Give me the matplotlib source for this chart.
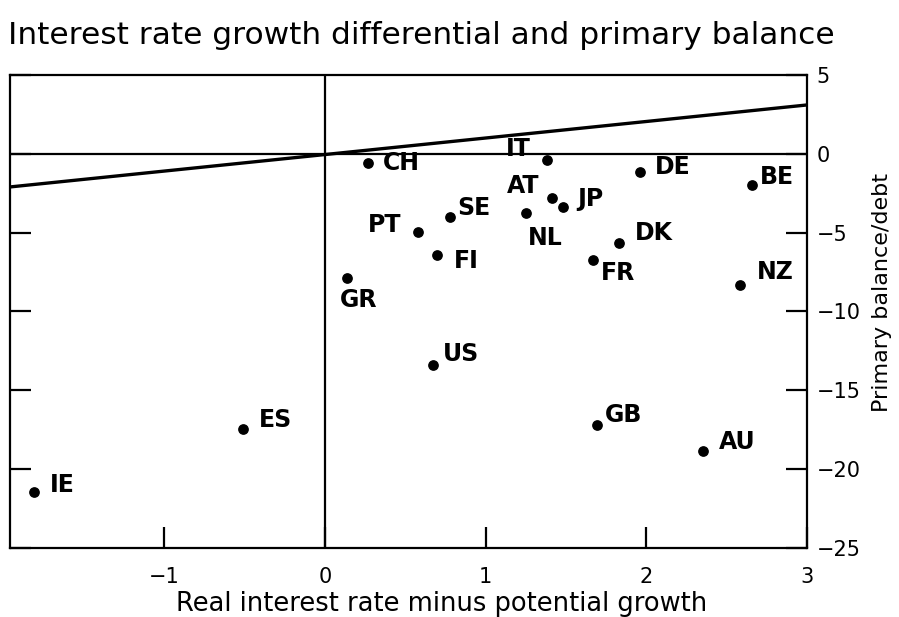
import matplotlib
matplotlib.use('Agg')
import matplotlib.pyplot as plt
import numpy as np

plt.rcParams['font.family'] = ['DejaVu Sans']

# データ
countries = ['CH', 'IT', 'DE', 'BE', 'AT', 'JP', 'SE', 'NL', 'PT', 'FI',
             'DK', 'FR', 'NZ', 'GR', 'US', 'GB', 'AU', 'ES', 'IE']
rate_gap = [0.27, 1.38, 1.96, 2.66, 1.41, 1.48, 0.78, 1.25, 0.58, 0.70,
            1.83, 1.67, 2.58, 0.14, 0.67, 1.69, 2.35, -0.51, -1.81]
primary_balance = [-0.55, -0.4, -1.15, -2.0, -2.8, -3.35, -4.0, -3.75, -4.95, -6.4,
                   -5.65, -6.75, -8.3, -7.9, -13.4, -17.2, -18.85, -17.45, -21.45]

# 回帰線の端点
fit_x = [-1.96, 3.0]
fit_y = [-2.1, 3.1]

# ラベル位置のずれ（ピクセル）
label_offsets = {
    'CH': (15, 0, 'left'), 'IT': (-28, 11, 'center'), 'DE': (15, 5, 'left'),
    'BE': (8, 8, 'left'), 'AT': (-28, 12, 'center'), 'JP': (14, 8, 'left'),
    'SE': (7, 9, 'left'), 'NL': (19, -25, 'center'), 'PT': (-17, 7, 'right'),
    'FI': (16, -6, 'left'), 'DK': (16, 10, 'left'), 'FR': (8, -13, 'left'),
    'NZ': (17, 13, 'left'), 'GR': (-8, -22, 'left'), 'US': (10, 11, 'left'),
    'GB': (8, 10, 'left'), 'AU': (16, 9, 'left'), 'ES': (16, 9, 'left'),
    'IE': (16, 7, 'left'),
}

fig = plt.figure(figsize=(8.99, 6.17), dpi=100)
ax = fig.add_axes([10 / 899, 1 - 548 / 617, 797 / 899, 473 / 617])

ax.set_xlim(-1.96, 3)
ax.set_ylim(-25, 5)

ax.axhline(0, color='black', lw=1.6, zorder=1)
ax.axvline(0, color='black', lw=1.6, zorder=1)
ax.plot(fit_x, fit_y, color='black', lw=2.4, zorder=2)

ax.scatter(rate_gap, primary_balance, s=45, color='black', zorder=3)
for name, x, y in zip(countries, rate_gap, primary_balance):
    dx, dy, ha = label_offsets[name]
    ax.annotate(name, (x, y), xytext=(dx, dy), textcoords='offset pixels',
                ha=ha, va='center', fontsize=17, fontweight='bold')

for s in ax.spines.values():
    s.set_linewidth(1.6)

ax.set_xticks([-1, 0, 1, 2, 3])
ax.set_yticks([-25, -20, -15, -10, -5, 0, 5])
ax.tick_params(axis='x', direction='in', length=15, width=1.6, labelsize=15, pad=14)
ax.tick_params(axis='y', direction='in', length=15, width=1.6, labelsize=15,
               left=True, right=True, labelleft=False, labelright=True, pad=7)

ax.set_xlabel('Real interest rate minus potential growth', fontsize=18.5)
ax.xaxis.set_label_coords(0.541, -0.118)
ax.xaxis.label.set_va('center')

ax.yaxis.set_label_position('right')
ax.set_ylabel('Primary balance/debt', fontsize=16)
ax.yaxis.set_label_coords((882 - 10) / 797, 0.54)
ax.yaxis.label.set_va('center')

fig.text(8 / 899, 1 - 36 / 617, 'Interest rate growth differential and primary balance',
         fontsize=22.5, va='center', ha='left')

fig.savefig('out.png', dpi=100)
